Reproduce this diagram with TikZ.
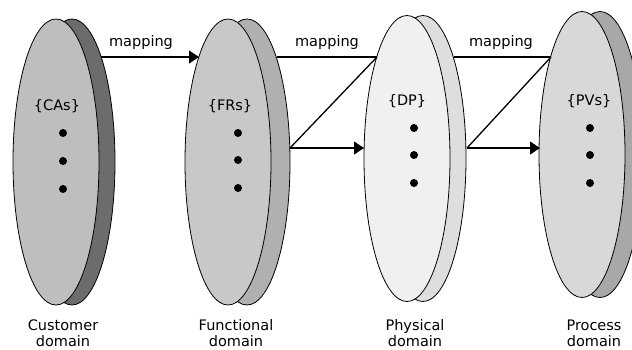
\documentclass[tikz,border=0pt]{standalone}
\usepackage{fontspec}
\setmainfont{DejaVu Sans}
\usetikzlibrary{shapes.geometric,arrows.meta}
\definecolor{cafront}{HTML}{BEBEBE}
\definecolor{caback}{HTML}{6C6C6C}
\definecolor{frfront}{HTML}{C8C8C8}
\definecolor{frback}{HTML}{B0B0B0}
\definecolor{dpfront}{HTML}{F0F0F0}
\definecolor{dpback}{HTML}{DEDEDE}
\definecolor{pvfront}{HTML}{D8D8D8}
\definecolor{pvback}{HTML}{A8A8A8}
\tikzset{
  disc/.style={ellipse, draw=black, line width=0.8pt, inner sep=0pt,
    minimum width=86pt, minimum height=286pt},
  lbl/.style={font=\fontsize{14.5}{16}\selectfont, inner sep=0pt},
  dlbl/.style={font=\fontsize{14.5}{16}\selectfont, inner sep=0pt, align=center},
  dotc/.style={circle, fill=black, inner sep=0pt, minimum size=8pt},
  conn/.style={line width=1.3pt},
  arr/.style={line width=1.3pt, -{Triangle[length=10pt,width=13pt]}}
}
\begin{document}
\begin{tikzpicture}[x=1pt,y=-1pt]
\useasboundingbox (0,0) rectangle (632,349);
% Customer domain
\node[disc, fill=caback] (cab) at (72,162) {};
\node[disc, fill=cafront] (caf) at (56,162) {};
% Functional domain
\node[disc, fill=frback] (frb) at (247,162) {};
\node[disc, fill=frfront] (frf) at (228,162) {};
% Physical domain
\node[disc, fill=dpback] (dpb) at (423,158.5) {};
\node[disc, fill=dpfront] (dpf) at (407,158.5) {};
% Process domain
\node[disc, fill=pvback] (pvb) at (600,154.5) {};
\node[disc, fill=pvfront] (pvf) at (582,154.5) {};

% set labels
\node[lbl] (ca) at (57,106) {\{CAs\}};
\node[lbl] (fr) at (230,106) {\{FRs\}};
\node[lbl] (dp) at (407,101) {\{DP\}};
\node[lbl] (pv) at (589,101) {\{PVs\}};

% dots
\foreach \i/\y in {1/133,2/161,3/189}{\node[dotc] (cad\i) at (63,\y) {};}
\foreach \i/\y in {1/133,2/160,3/188}{\node[dotc] (frd\i) at (238,\y) {};}
\foreach \i/\y in {1/128,2/155,3/183}{\node[dotc] (dpd\i) at (414,\y) {};}
\foreach \i/\y in {1/128,2/155,3/183}{\node[dotc] (pvd\i) at (590,\y) {};}

% junction points
\coordinate (c1) at (101,57);
\coordinate (f1) at (199,57);
\coordinate (f2) at (277,57);
\coordinate (f3) at (290,148);
\coordinate (p1) at (377,57);
\coordinate (p2) at (364,148);
\coordinate (p3) at (454,57);
\coordinate (p4) at (467,148);
\coordinate (q1) at (551,57);
\coordinate (q2) at (540,148);

% connectors
\draw[arr] (c1) -- (f1);
\draw[conn] (f2) -- (p1);
\draw[conn] (p1) -- (f3);
\draw[arr] (f3) -- (p2);
\draw[conn] (p3) -- (q1);
\draw[conn] (q1) -- (p4);
\draw[arr] (p4) -- (q2);

% mapping labels
\node[lbl] (m1) at (141,42) {mapping};
\node[lbl] (m2) at (327,42) {mapping};
\node[lbl] (m3) at (501,42) {mapping};

% domain labels
\node[dlbl] (cd) at (63,333) {Customer\\domain};
\node[dlbl] (fd) at (236,333) {Functional\\domain};
\node[dlbl] (pd) at (415,333) {Physical\\domain};
\node[dlbl] (rd) at (594,333) {Process\\domain};
\end{tikzpicture}
\end{document}
